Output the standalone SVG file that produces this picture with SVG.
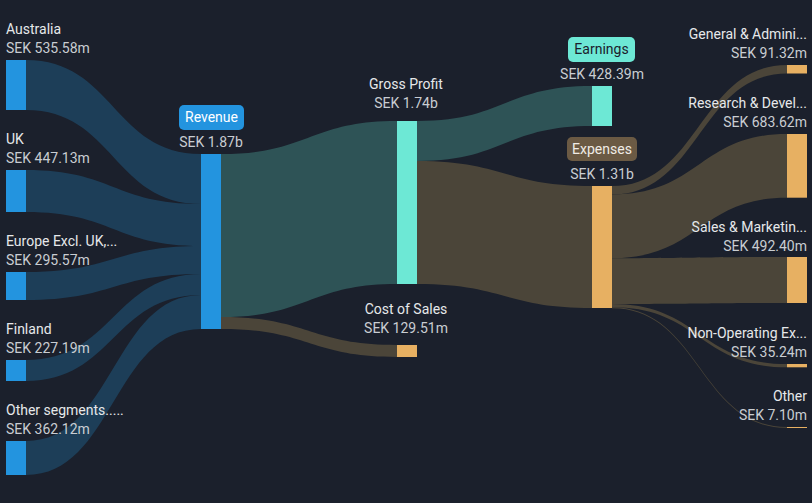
<svg xmlns="http://www.w3.org/2000/svg" width="812" height="503" viewBox="0 0 812 503">
<style>
text{font-family:Roboto,"Liberation Sans",sans-serif;font-size:14px}
.n{fill:#e6e8ea}
.v{fill:#c9cdd2}
.e{text-anchor:end}
.m{text-anchor:middle}
.fb{fill:#1d3e58}
.ft{fill:#2e5356}
.fo{fill:#4b4539}
.blue{fill:#2394df}
.teal{fill:#6de8d5}
.org{fill:#e7b062}
</style>
<rect width="812" height="503" fill="#1b202c"/>
<g id="connectors">
<path class="fb" d="M26,60 C113.5,60 113.5,154 201,154 L201,204 C113.5,204 113.5,110 26,110 Z"/>
<path class="fb" d="M26,170 C113.5,170 113.5,204 201,204 L201,246 C113.5,246 113.5,212 26,212 Z"/>
<path class="fb" d="M26,272 C113.5,272 113.5,246 201,246 L201,274 C113.5,274 113.5,300 26,300 Z"/>
<path class="fb" d="M26,360 C113.5,360 113.5,274 201,274 L201,295 C113.5,295 113.5,381 26,381 Z"/>
<path class="fb" d="M26,441 C113.5,441 113.5,295 201,295 L201,329 C113.5,329 113.5,475 26,475 Z"/>
<path class="ft" d="M221,154 C309,154 309,121 397,121 L397,284 C309,284 309,317 221,317 Z"/>
<path class="fo" d="M221,317 C309,317 309,345 397,345 L397,357 C309,357 309,329 221,329 Z"/>
<path class="ft" d="M417,121 C504.5,121 504.5,86 592,86 L592,126 C504.5,126 504.5,161 417,161 Z"/>
<path class="fo" d="M417,161 C504.5,161 504.5,186 592,186 L592,308 C504.5,308 504.5,284 417,284 Z"/>
<path class="fo" d="M612,186 C699.5,186 699.5,65 787,65 L787,73.5 C699.5,73.5 699.5,194.5 612,194.5 Z"/>
<path class="fo" d="M612,194.5 C699.5,194.5 699.5,134 787,134 L787,197.7 C699.5,197.7 699.5,258.2 612,258.2 Z"/>
<path class="fo" d="M612,258.2 C699.5,258.2 699.5,257 787,257 L787,303 C699.5,303 699.5,304 612,304 Z"/>
<path class="fo" d="M612,304 C699.5,304 699.5,364 787,364 L787,367.3 C699.5,367.3 699.5,307.3 612,307.3 Z"/>
<path class="fo" d="M612,307.3 C699.5,307.3 699.5,427 787,427 L787,428 C699.5,428 699.5,308.3 612,308.3 Z"/>
</g>
<g id="australia">
<rect class="blue" x="6" y="60" width="20" height="50"/>
<text class="n" x="6" y="34">Australia</text>
<text class="v" x="6" y="53">SEK 535.58m</text>
</g>
<g id="uk">
<rect class="blue" x="6" y="170" width="20" height="42"/>
<text class="n" x="6" y="144">UK</text>
<text class="v" x="6" y="163">SEK 447.13m</text>
</g>
<g id="europe">
<rect class="blue" x="6" y="272" width="20" height="28"/>
<text class="n" x="6" y="246">Europe Excl. UK,...</text>
<text class="v" x="6" y="265">SEK 295.57m</text>
</g>
<g id="finland">
<rect class="blue" x="6" y="360" width="20" height="21"/>
<text class="n" x="6" y="334">Finland</text>
<text class="v" x="6" y="353">SEK 227.19m</text>
</g>
<g id="other-segments">
<rect class="blue" x="6" y="441" width="20" height="34"/>
<text class="n" x="6" y="415">Other segments.....</text>
<text class="v" x="6" y="434">SEK 362.12m</text>
</g>
<g id="revenue">
<rect class="blue" x="201" y="154" width="20" height="175"/>
<rect class="blue" x="179" y="105" width="65" height="25" rx="5"/>
<text class="m" x="211.5" y="122" fill="#ffffff">Revenue</text>
<text class="v m" x="211" y="147">SEK 1.87b</text>
</g>
<g id="gross-profit">
<rect class="teal" x="397" y="121" width="20" height="163"/>
<text class="n m" x="406" y="89">Gross Profit</text>
<text class="v m" x="406" y="108">SEK 1.74b</text>
</g>
<g id="cost-of-sales">
<rect class="org" x="397" y="345" width="20" height="12"/>
<text class="n m" x="406" y="314">Cost of Sales</text>
<text class="v m" x="406" y="333">SEK 129.51m</text>
</g>
<g id="earnings">
<rect class="teal" x="592" y="86" width="20" height="40"/>
<rect class="teal" x="568" y="37" width="67" height="25" rx="5"/>
<text class="m" x="601.5" y="54" fill="#1b202c">Earnings</text>
<text class="v m" x="602" y="79">SEK 428.39m</text>
</g>
<g id="expenses">
<rect class="org" x="592" y="186" width="20" height="122"/>
<rect x="567" y="137" width="70" height="24" rx="5" fill="#6b5a44"/>
<text class="m" x="602" y="154" fill="#f0ece6">Expenses</text>
<text class="v m" x="602" y="179">SEK 1.31b</text>
</g>
<g id="general-admin">
<rect class="org" x="787" y="65" width="20" height="8.5"/>
<text class="n e" x="807" y="39">General &amp; Admini...</text>
<text class="v e" x="807" y="58">SEK 91.32m</text>
</g>
<g id="research-dev">
<rect class="org" x="787" y="134" width="20" height="63.7"/>
<text class="n e" x="807" y="108">Research &amp; Devel...</text>
<text class="v e" x="807" y="127">SEK 683.62m</text>
</g>
<g id="sales-marketing">
<rect class="org" x="787" y="257" width="20" height="46"/>
<text class="n e" x="807" y="232">Sales &amp; Marketin...</text>
<text class="v e" x="807" y="251">SEK 492.40m</text>
</g>
<g id="non-operating">
<rect class="org" x="787" y="364" width="20" height="3.3"/>
<text class="n e" x="807" y="338">Non-Operating Ex...</text>
<text class="v e" x="807" y="357">SEK 35.24m</text>
</g>
<g id="other">
<rect class="org" x="787" y="427" width="20" height="1"/>
<text class="n e" x="807" y="401">Other</text>
<text class="v e" x="807" y="420">SEK 7.10m</text>
</g>
</svg>
